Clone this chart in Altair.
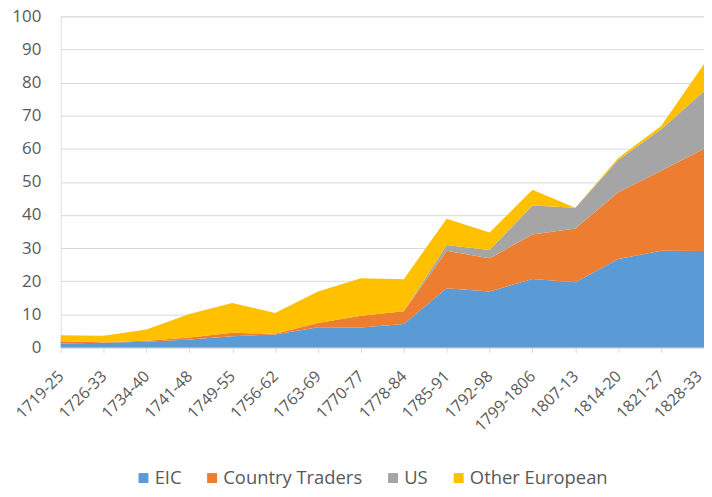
import altair as alt
import pandas as pd

periods = ["1719-25", "1726-33", "1734-40", "1741-48", "1749-55", "1756-62",
           "1763-69", "1770-77", "1778-84", "1785-91", "1792-98", "1799-1806",
           "1807-13", "1814-20", "1821-27", "1828-33"]
eic = [1.2, 1.4, 1.7, 2.4, 3.4, 3.9, 6.1, 6.0, 7.1, 17.9, 16.9, 20.7, 19.7, 26.7, 29.2, 29.1]
country_traders = [0.7, 0.2, 0.3, 0.6, 1.0, 0.2, 1.3, 3.6, 3.8, 11.3, 10.0, 13.4, 16.2, 20.2, 24.2, 30.9]
us = [0, 0, 0, 0, 0, 0, 0, 0, 0, 1.7, 2.5, 8.8, 6.3, 9.7, 12.5, 17.4]
other_european = [1.8, 1.9, 3.4, 7.1, 9.0, 6.3, 9.5, 11.3, 9.7, 8.0, 5.3, 4.7, 0.0, 0.6, 1.0, 8.2]

series_names = ["EIC", "Country Traders", "US", "Other European"]
series_values = [eic, country_traders, us, other_european]
colors = ["#5B9BD5", "#ED7D31", "#A5A5A5", "#FFC000"]

rows = []
for rank, (name, vals) in enumerate(zip(series_names, series_values)):
    for p, v in zip(periods, vals):
        rows.append({"period": p, "series": name, "value": v, "rank": rank})
df = pd.DataFrame(rows)

FONT = "Open Sans"
GREY = "#595959"

chart = alt.Chart(df).mark_area(opacity=1).encode(
    x=alt.X("period:N", sort=periods, title=None,
            scale=alt.Scale(padding=0),
            axis=alt.Axis(labelAngle=-45, labelFontSize=16, labelFont=FONT,
                          labelColor=GREY, ticks=True, tickSize=5,
                          tickColor="#D9D9D9", domainColor="#D9D9D9",
                          grid=False, labelAlign="right", labelBaseline="middle",
                          labelPadding=21,
                          labelOffset={"condition": {"test": "datum.label === '1828-33'",
                                                     "value": -5},
                                       "value": 0})),
    y=alt.Y("value:Q", stack="zero", title=None,
            scale=alt.Scale(domain=[0, 100], nice=False),
            axis=alt.Axis(values=list(range(0, 101, 10)), labelFontSize=17,
                          labelFont=FONT, labelColor=GREY, ticks=False,
                          domain=False, gridColor="#D9D9D9", labelPadding=20)),
    color=alt.Color("series:N",
                    scale=alt.Scale(domain=series_names, range=colors),
                    legend=alt.Legend(title=None, orient="none", legendX=74,
                                      legendY=455, direction="horizontal",
                                      symbolType="square", symbolSize=100,
                                      symbolStrokeWidth=0, labelFontSize=18.5,
                                      labelFont=FONT, labelColor=GREY,
                                      columnPadding=21, labelOffset=2)),
    order=alt.Order("rank:Q", sort="ascending"),
).properties(
    width=647, height=333,
    autosize=alt.AutoSizeParams(type="none"),
    padding={"left": 53, "top": 7, "right": 0, "bottom": 141},
).configure_view(stroke=None).configure(background="white")

chart.save("out.html", embed_options={"renderer": "svg", "actions": False})
